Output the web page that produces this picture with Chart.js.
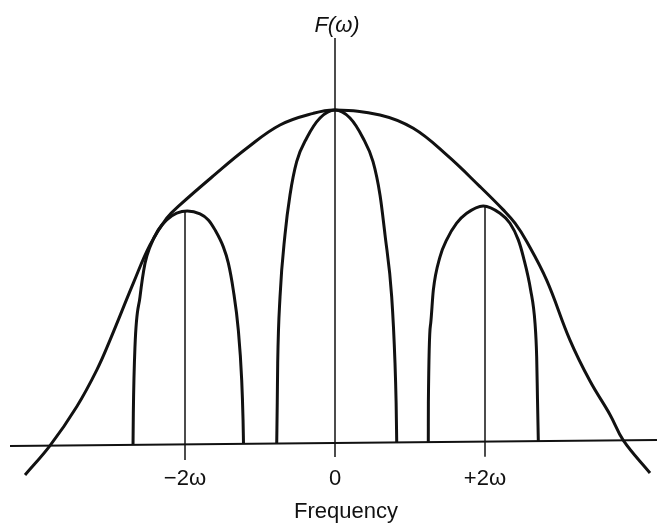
<!DOCTYPE html>
<html>
<head>
<meta charset="utf-8">
<title>F(ω) spectrum</title>
<script src="https://cdn.jsdelivr.net/npm/chart.js@4.4.1/dist/chart.umd.min.js"></script>
<style>
    html, body { margin: 0; padding: 0; background: #fff; }
    #wrap { width: 657px; height: 525px; position: relative; }
</style>
</head>
<body>
<div id="wrap"><canvas id="spectrumChart"></canvas></div>
<script>
// Frequency in units of ω, amplitude relative to the envelope peak
const envelopeX = [-4.133, -3.800, -3.444, -3.177, -3.000, -2.689, -2.467, -2.244, -2.067, -1.623, -1.177, -0.733, -0.289, 0,
                   0.600, 1.044, 1.489, 1.933, 2.244, 2.400, 2.556, 2.822, 3.133, 3.400, 3.667, 3.844, 4.200];
const envelopeY = [-0.096, -0.008, 0.109, 0.219, 0.309, 0.480, 0.595, 0.675, 0.715, 0.802, 0.885, 0.955, 0.990, 1.0,
                   0.985, 0.945, 0.865, 0.770, 0.700, 0.660, 0.605, 0.489, 0.309, 0.186, 0.085, 0.008, -0.090];

const leftLobeX = [-2.693, -2.689, -2.667, -2.600, -2.533, -2.467, -2.356, -2.244, -2.111, -1.969,
                   -1.800, -1.689, -1.600, -1.489, -1.422, -1.356, -1.289, -1.244, -1.226, -1.220];
const leftLobeY = [-0.006, 0.089, 0.289, 0.439, 0.540, 0.589, 0.640, 0.670, 0.690, 0.697,
                   0.688, 0.670, 0.640, 0.589, 0.540, 0.459, 0.339, 0.189, 0.069, -0.002];

const centerLobeX = [-0.777, -0.770, -0.764, -0.733, -0.667, -0.600, -0.511, -0.377, -0.200, 0,
                     0.200, 0.373, 0.507, 0.600, 0.667, 0.756, 0.800, 0.815, 0.823];
const centerLobeY = [-0.001, 0.12, 0.240, 0.439, 0.625, 0.745, 0.845, 0.916, 0.976, 1.0,
                     0.976, 0.916, 0.845, 0.745, 0.625, 0.439, 0.240, 0.12, 0.002];

const rightLobeX = [1.244, 1.245, 1.276, 1.311, 1.400, 1.489, 1.622, 1.756, 1.977,
                    2.200, 2.333, 2.444, 2.511, 2.609, 2.667, 2.689, 2.700, 2.711];
const rightLobeY = [0.003, 0.12, 0.359, 0.459, 0.559, 0.610, 0.660, 0.690, 0.712,
                    0.690, 0.660, 0.610, 0.559, 0.459, 0.359, 0.259, 0.13, 0.006];

// Vertical marker lines at the lobe centres
const markerX = [-2, 0, 2];
const markerTop = [0.697, 1.216, 0.712];
const markerBottom = [-0.051, -0.042, -0.041];

// Frequency axis line, ends slightly uneven as drawn
const axisX = [-4.333, 4.293];
const axisY = [-0.009, 0.009];

const tickValues = [-2, 0, 2];
const tickLabels = ['−2ω', '0', '+2ω'];

const INK = '#111';
const FONT = '"Liberation Sans", Arial, Helvetica, sans-serif';

function toPoints(xs, ys) {
    return xs.map((x, i) => ({ x: x, y: ys[i] }));
}

// smooth: bezier tension for the broad envelope, monotone for the steep lobes
function curve(xs, ys, width, smooth) {
    const ds = {
        data: toPoints(xs, ys),
        borderColor: INK,
        borderWidth: width,
        pointRadius: 0,
        showLine: true,
        clip: false
    };
    if (smooth) {
        ds.tension = 0.4;
    } else {
        ds.cubicInterpolationMode = 'monotone';
    }
    return ds;
}

function straight(points, width) {
    return {
        data: points,
        borderColor: INK,
        borderWidth: width,
        tension: 0,
        pointRadius: 0,
        showLine: true,
        clip: false
    };
}

const datasets = [
    straight(toPoints(axisX, axisY), 2),
    curve(envelopeX, envelopeY, 3, true),
    curve(leftLobeX, leftLobeY, 3, false),
    curve(centerLobeX, centerLobeY, 3, false),
    curve(rightLobeX, rightLobeY, 3, false)
];
markerX.forEach((x, i) => {
    datasets.push(straight([{ x: x, y: markerBottom[i] }, { x: x, y: markerTop[i] }], 1.5));
});

// F(ω) label above the vertical axis
const axisLabelPlugin = {
    id: 'axisLabel',
    afterDraw(chart) {
        const ctx = chart.ctx;
        const px = chart.scales.x.getPixelForValue(0);
        ctx.save();
        ctx.font = 'italic 22px ' + FONT;
        ctx.fillStyle = INK;
        ctx.textAlign = 'center';
        ctx.textBaseline = 'alphabetic';
        ctx.fillText('F(ω)', px + 2, 32);
        ctx.restore();
    }
};

new Chart(document.getElementById('spectrumChart'), {
    type: 'scatter',
    data: { datasets },
    options: {
        responsive: true,
        maintainAspectRatio: false,
        animation: false,
        layout: { padding: { left: 35, right: 0, top: 0, bottom: 0 } },
        plugins: { legend: { display: false }, tooltip: { enabled: false } },
        scales: {
            x: {
                type: 'linear',
                min: -300 / 75,
                max: 322 / 75,
                grid: { display: false },
                border: { display: false },
                afterBuildTicks: scale => {
                    scale.ticks = tickValues.map(v => ({ value: v }));
                },
                afterFit: scale => { scale.height = 73; },
                ticks: {
                    color: INK,
                    padding: 6,
                    maxRotation: 0,
                    autoSkip: false,
                    font: { family: FONT, size: 22 },
                    callback: value => tickLabels[tickValues.indexOf(value)]
                },
                title: {
                    display: true,
                    text: 'Frequency',
                    color: INK,
                    padding: { top: 4, bottom: 0 },
                    font: { family: FONT, size: 22 }
                }
            },
            y: {
                display: false,
                min: -9 / 333,
                max: 443 / 333
            }
        }
    },
    plugins: [axisLabelPlugin]
});
</script>
</body>
</html>
